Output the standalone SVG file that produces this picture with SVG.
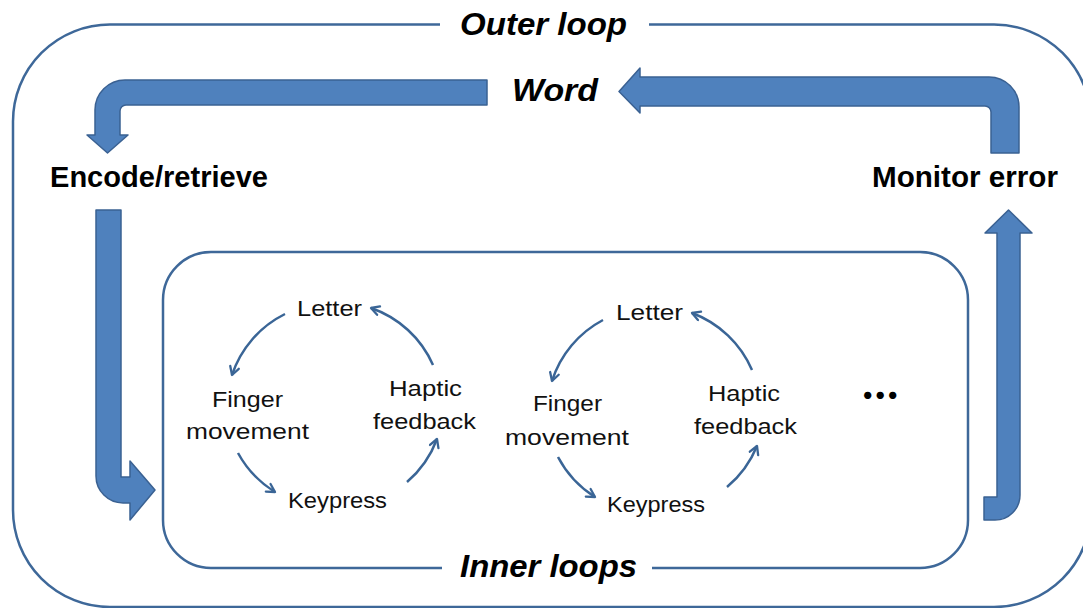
<svg xmlns="http://www.w3.org/2000/svg" width="1083" height="608" viewBox="0 0 1083 608">
  <style>
    .frame { fill: none; stroke: #3e6899; stroke-width: 2.5; }
    .block { fill: #4f81bd; stroke: #3a6192; stroke-width: 1.5; stroke-linejoin: round; }
    .thin { fill: none; stroke: #3a6596; stroke-width: 2.5; marker-end: url(#chev); }
    .title { font-family: "Liberation Sans", Arial, sans-serif; font-weight: bold; font-style: italic; font-size: 32px; fill: #000; }
    .stage { font-family: "Liberation Sans", Arial, sans-serif; font-weight: bold; font-size: 29px; fill: #000; }
    .step { font-family: "Liberation Sans", Arial, sans-serif; font-size: 22px; fill: #111; }
  </style>
  <defs>
    <marker id="chev" viewBox="0 0 12 12" refX="10" refY="6" markerWidth="12" markerHeight="12" markerUnits="userSpaceOnUse" orient="auto">
      <path d="M2,1.5 L10,6 L2,10.5" fill="none" stroke="#3a6596" stroke-width="2.3" stroke-linecap="round" stroke-linejoin="round"/>
    </marker>
  </defs>

  <rect width="1083" height="608" fill="#fff"/>

  <!-- outer loop frame, open at the top for its title -->
  <g id="outer-loop">
    <path class="frame" d="M649,24.5 H994 A97,97 0 0 1 1091,121.5 V510 A97,97 0 0 1 994,607 H110 A97,97 0 0 1 13,510 V121.5 A97,97 0 0 1 110,24.5 H440"/>
    <text class="title" x="460" y="35" textLength="167" lengthAdjust="spacingAndGlyphs">Outer loop</text>
  </g>

  <!-- inner loops frame, open at the bottom for its title -->
  <g id="inner-loops">
    <path class="frame" d="M652,568 H920 A48,48 0 0 0 968,520 V300 A48,48 0 0 0 920,252 H211 A48,48 0 0 0 163,300 V520 A48,48 0 0 0 211,568 H442"/>
    <text class="title" x="460" y="577" textLength="177" lengthAdjust="spacingAndGlyphs">Inner loops</text>
  </g>

  <g id="word">
    <text class="title" x="512" y="101" textLength="86" lengthAdjust="spacingAndGlyphs">Word</text>
  </g>
  <g id="encode-retrieve">
    <text class="stage" x="50" y="187" textLength="218" lengthAdjust="spacingAndGlyphs">Encode/retrieve</text>
  </g>
  <g id="monitor-error">
    <text class="stage" x="872" y="187" textLength="186" lengthAdjust="spacingAndGlyphs">Monitor error</text>
  </g>

  <!-- first inner loop -->
  <g id="letter-1"><text class="step" x="297" y="316" textLength="65" lengthAdjust="spacingAndGlyphs">Letter</text></g>
  <g id="finger-1">
    <text class="step" x="212" y="407" textLength="71" lengthAdjust="spacingAndGlyphs">Finger</text>
    <text class="step" x="186" y="439" textLength="123" lengthAdjust="spacingAndGlyphs">movement</text>
  </g>
  <g id="keypress-1"><text class="step" x="288" y="508" textLength="99" lengthAdjust="spacingAndGlyphs">Keypress</text></g>
  <g id="haptic-1">
    <text class="step" x="389" y="396" textLength="73" lengthAdjust="spacingAndGlyphs">Haptic</text>
    <text class="step" x="373" y="429" textLength="103" lengthAdjust="spacingAndGlyphs">feedback</text>
  </g>

  <!-- second inner loop -->
  <g id="letter-2"><text class="step" x="616" y="320" textLength="67" lengthAdjust="spacingAndGlyphs">Letter</text></g>
  <g id="finger-2">
    <text class="step" x="533" y="411" textLength="69" lengthAdjust="spacingAndGlyphs">Finger</text>
    <text class="step" x="505" y="445" textLength="124" lengthAdjust="spacingAndGlyphs">movement</text>
  </g>
  <g id="keypress-2"><text class="step" x="607" y="512" textLength="98" lengthAdjust="spacingAndGlyphs">Keypress</text></g>
  <g id="haptic-2">
    <text class="step" x="708" y="401" textLength="72" lengthAdjust="spacingAndGlyphs">Haptic</text>
    <text class="step" x="694" y="434" textLength="103" lengthAdjust="spacingAndGlyphs">feedback</text>
  </g>

  <!-- further loops elided -->
  <g id="more-loops">
    <text x="862 874.5 887" y="399" font-family="Lato, 'Open Sans', sans-serif" font-weight="bold" font-size="48" fill="#000">...</text>
  </g>

  <g id="connectors">
    <!-- outer loop block arrows -->
    <path class="block" d="M487,80 L125,80 A30,30 0 0 0 95,110 L95,135 L87,135 L107.5,153 L128,135 L120,135 L120,111 A6,6 0 0 1 126,105 L487,105 Z"/>
    <path class="block" d="M640,77 L989,77 A30,30 0 0 1 1019,107 L1019,153 L991,153 L991,112 A6,6 0 0 0 985,106 L640,106 L640,113 L619,91.5 L640,68 Z"/>
    <path class="block" d="M1008.5,210 L1032,233 L1020,233 L1020,495 A25,25 0 0 1 995,520 L984,520 L984,497 L997,497 L997,233 L985,233 Z"/>
    <path class="block" d="M96,210 L121,210 L121,477 L130,477 L130,461 L155,490 L130,520 L130,503 L123,503 A27,27 0 0 1 96,476 Z"/>

    <!-- first inner loop cycle -->
    <path class="thin" d="M285,314 A105,105 0 0 0 232,375"/>
    <path class="thin" d="M238,453 A105,105 0 0 0 275,492"/>
    <path class="thin" d="M407,482 A105,105 0 0 0 437,439"/>
    <path class="thin" d="M433,365 A105,105 0 0 0 371,308"/>

    <!-- second inner loop cycle -->
    <path class="thin" d="M603,320 A105,105 0 0 0 552,381"/>
    <path class="thin" d="M558,457 A105,105 0 0 0 595,497"/>
    <path class="thin" d="M727,487 A105,105 0 0 0 757,446"/>
    <path class="thin" d="M752,370 A105,105 0 0 0 692,313"/>
  </g>
</svg>
